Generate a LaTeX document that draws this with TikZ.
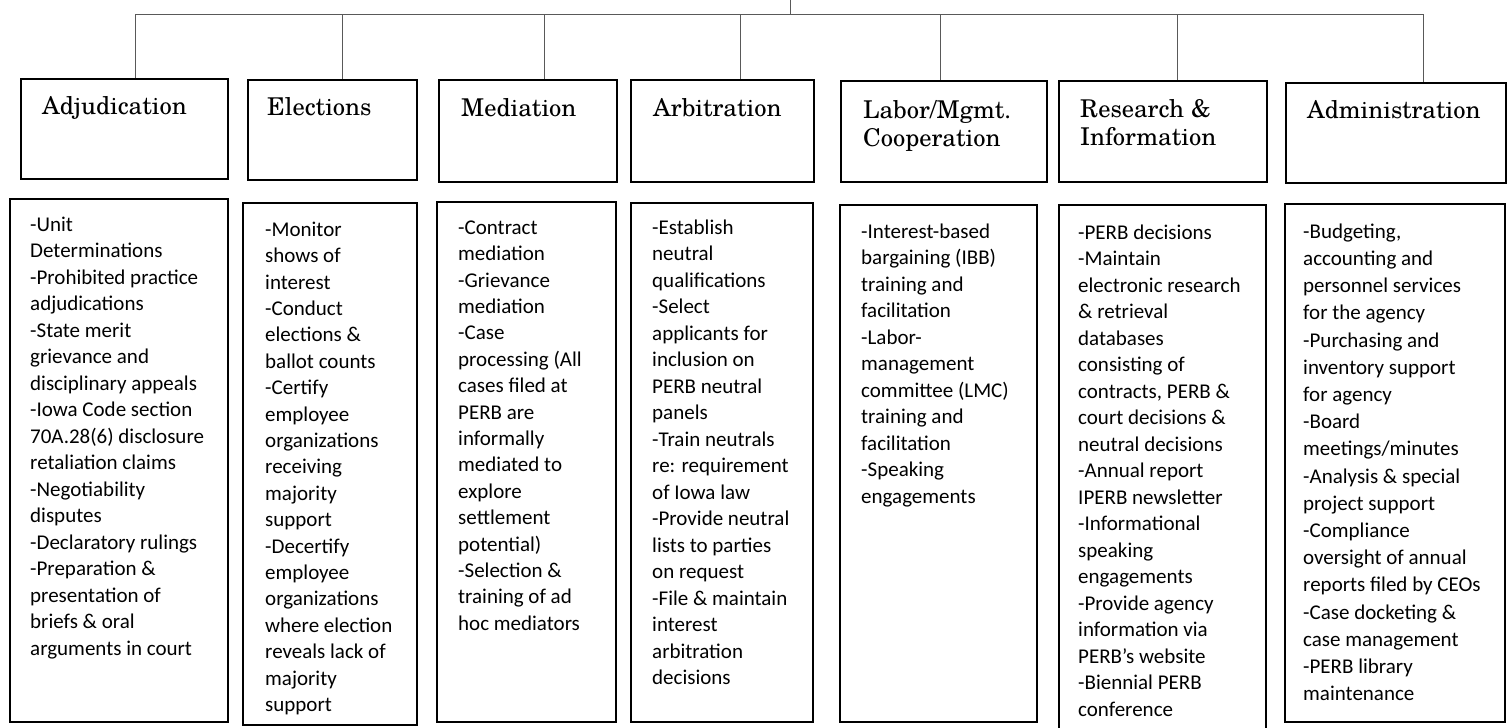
\documentclass[tikz,border=0pt]{standalone}
\usepackage{fontspec}
\setmainfont{Carlito}
\newfontfamily\scholafam{TeX Gyre Schola}
\usetikzlibrary{fit}
\newcommand{\hdrf}{\scholafam\fontsize{24.5}{28.5}\selectfont}
\newcommand{\hs}{\rule{0pt}{17pt}}
\newcommand{\bs}{\rule{0pt}{15pt}}
\newcommand{\bodyf}[1]{\fontsize{21}{#1}\selectfont}
\begin{document}
\begin{tikzpicture}[x=1pt,y=-1pt,
  box/.style={draw,line width=1.6pt,inner sep=0pt},
  conn/.style={draw=black!65,line width=1pt},
  htext/.style={anchor=north west,inner sep=0pt,align=left,font=\hdrf},
  btext/.style={anchor=north west,inner sep=0pt,align=left}]
\useasboundingbox (0,0) rectangle (1507,728);
% header boxes
\node[box,fit={(21,79) (228,179)}] (h1) {};
\node[box,fit={(248,80) (417,180)}] (h2) {};
\node[box,fit={(439,80) (617,182)}] (h3) {};
\node[box,fit={(631,80) (814,182)}] (h4) {};
\node[box,fit={(841,81) (1047,182)}] (h5) {};
\node[box,fit={(1059,81) (1267,182)}] (h6) {};
\node[box,fit={(1286,83) (1506,183)}] (h7) {};
% header texts
\node[htext] (t1) at (42,96) {\hs Adjudication};
\node[htext] (t2) at (267,97) {\hs Elections};
\node[htext] (t3) at (461,98) {\hs Mediation};
\node[htext] (t4) at (653,98) {\hs Arbitration};
\node[htext] (t5) at (863,100) {\hs Labor/Mgmt.\\Cooperation};
\node[htext] (t6) at (1080,99) {\hs Research \&\\Information};
\node[htext] (t7) at (1307,100) {\hs Administration};
% body boxes
\node[box,fit={(10,199) (228,722)}] (b1) {};
\node[box,fit={(243,203) (417,725)}] (b2) {};
\node[box,fit={(437,202) (616,722)}] (b3) {};
\node[box,fit={(631,203) (813,722)}] (b4) {};
\node[box,fit={(840,205) (1037,722)}] (b5) {};
\node[box,fit={(1059,205) (1266,735)}] (b6) {};
\node[box,fit={(1285,204) (1505,722)}] (b7) {};
% body texts
\node[btext,font=\bodyf{26.5}] (s1) at (30,216) {\bs -Unit\\Determinations\\-Prohibited practice\\adjudications\\-State merit\\grievance and\\disciplinary appeals\\-Iowa Code section\\70A.28(6) disclosure\\retaliation claims\\-Negotiability\\disputes\\-Declaratory rulings\\-Preparation \&\\presentation of\\briefs \& oral\\arguments in court};
\node[btext,font=\bodyf{26.4}] (s2) at (265,221) {\bs -Monitor\\shows of\\interest\\-Conduct\\elections \&\\ballot counts\\-Certify\\employee\\organizations\\receiving\\majority\\support\\-Decertify\\employee\\organizations\\where election\\reveals lack of\\majority\\support};
\node[btext,font=\bodyf{26.4}] (s3) at (458,219) {\bs -Contract\\mediation\\-Grievance\\mediation\\-Case\\processing (All\\cases filed at\\PERB are\\informally\\mediated to\\explore\\settlement\\potential)\\-Selection \&\\training of ad\\hoc mediators};
\node[btext,font=\bodyf{26.5}] (s4) at (652,219) {\bs -Establish\\neutral\\qualifications\\-Select\\applicants for\\inclusion on\\PERB neutral\\panels\\-Train neutrals\\re: requirement\\of Iowa law\\-Provide neutral\\lists to parties\\on request\\-File \& maintain\\interest\\arbitration\\decisions};
\node[btext,font=\bodyf{26.5}] (s5) at (861,223) {\bs -Interest-based\\bargaining (IBB)\\training and\\facilitation\\-Labor-\\management\\committee (LMC)\\training and\\facilitation\\-Speaking\\engagements};
\node[btext,font=\bodyf{26.5}] (s6) at (1078,224) {\bs -PERB decisions\\-Maintain\\electronic research\\\& retrieval\\databases\\consisting of\\contracts, PERB \&\\court decisions \&\\neutral decisions\\-Annual report\\IPERB newsletter\\-Informational\\speaking\\engagements\\-Provide agency\\information via\\PERB’s website\\-Biennial PERB\\conference};
\node[btext,font=\bodyf{27.2}] (s7) at (1303,223) {\bs -Budgeting,\\accounting and\\personnel services\\for the agency\\-Purchasing and\\inventory support\\for agency\\-Board\\meetings/minutes\\-Analysis \& special\\project support\\-Compliance\\oversight of annual\\reports filed by CEOs\\-Case docketing \&\\case management\\-PERB library\\maintenance};
% connectors
\coordinate (root) at (790,0);
\coordinate (bus) at (790,14);
\coordinate (d1) at (135,0);
\coordinate (d2) at (342,0);
\coordinate (d3) at (544,0);
\coordinate (d4) at (740,0);
\coordinate (d5) at (940,0);
\coordinate (d6) at (1177,0);
\coordinate (d7) at (1423,0);
\draw[conn] (root) -- (bus);
\draw[conn] (bus -| d1) -- (bus -| d7);
\foreach \k in {1,...,7}{
  \draw[conn] (bus -| d\k) -- (h\k.north -| d\k);
}
\end{tikzpicture}
\end{document}
